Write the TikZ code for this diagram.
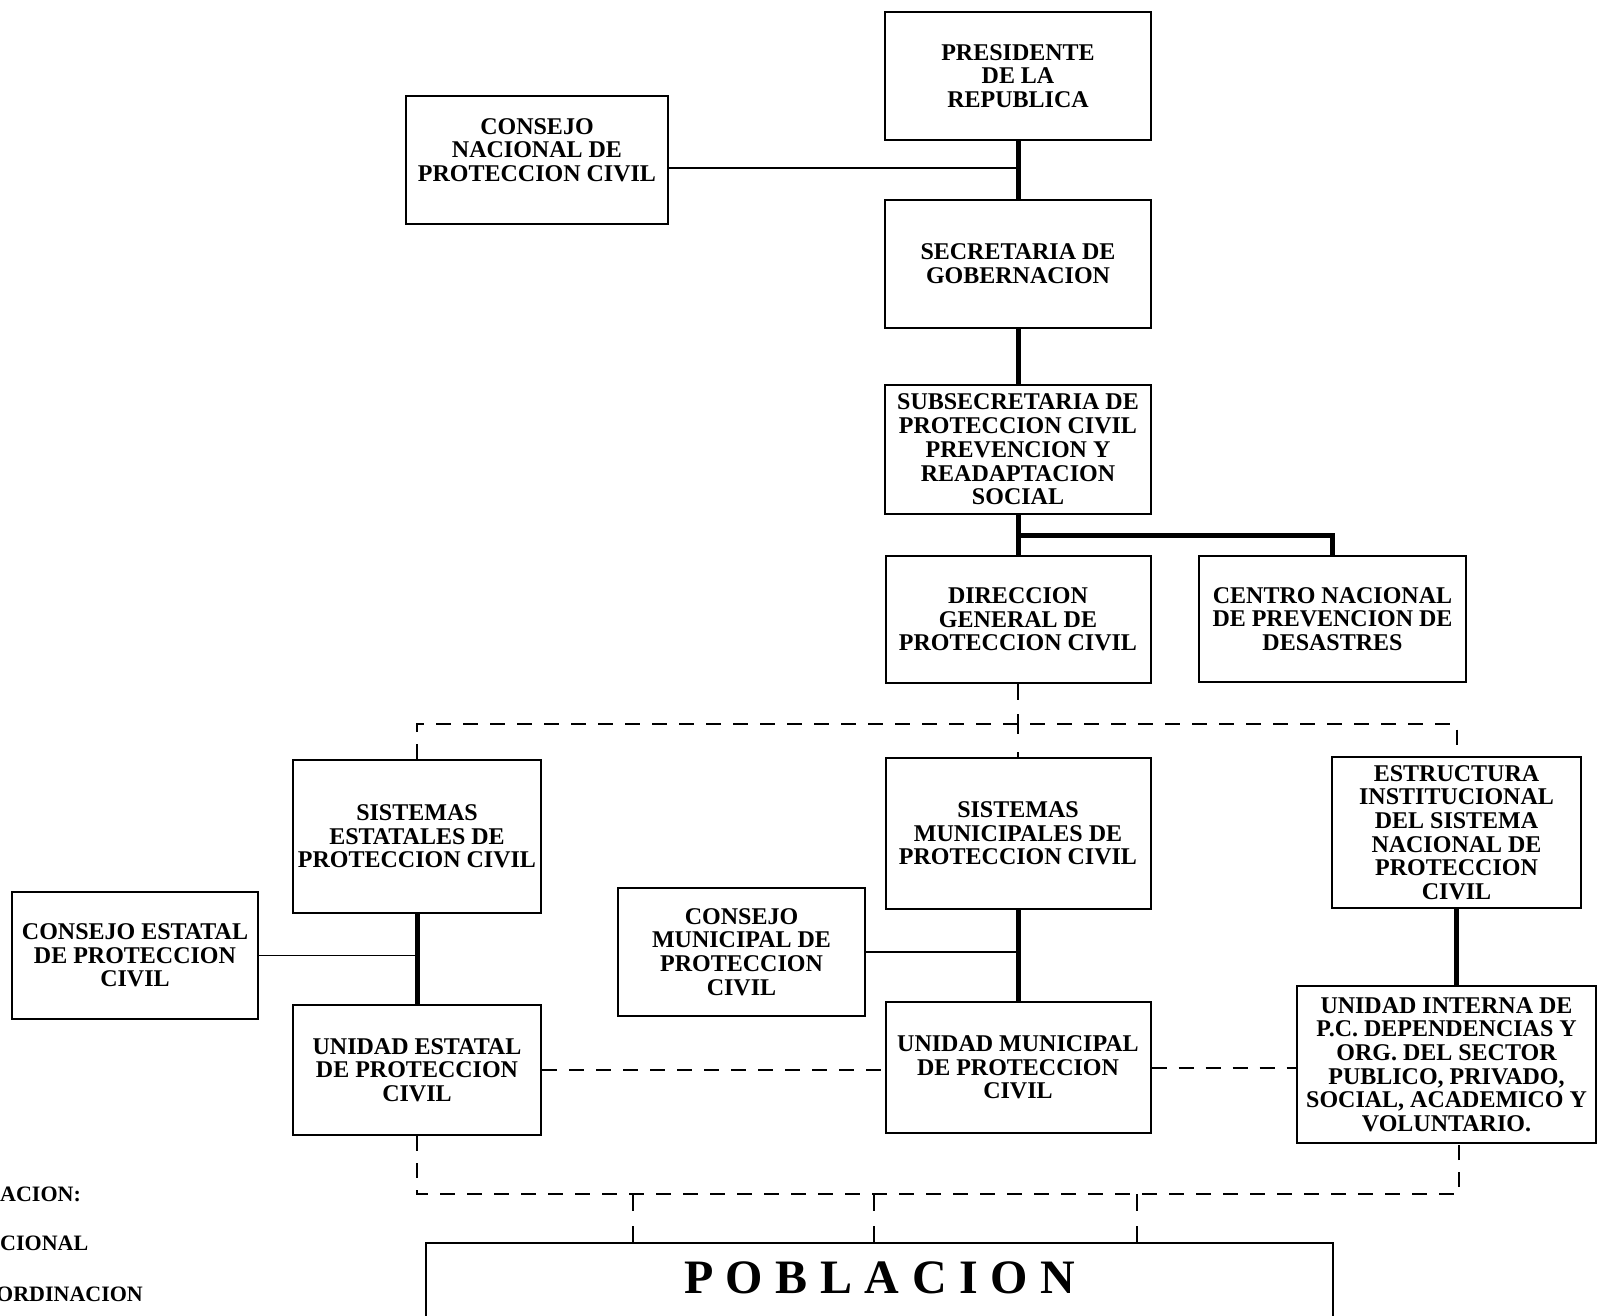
\documentclass[tikz,border=0pt]{standalone}
\usepackage{fontspec}
\setmainfont{Liberation Serif}
\usetikzlibrary{calc}
\begin{document}
\begin{tikzpicture}[x=1pt,y=-1pt,
  box/.style={draw,line width=2pt,inner sep=0pt,align=center,font=\fontsize{24}{23.7}\selectfont\bfseries},
  thickline/.style={line width=5pt},
  thinline/.style={line width=1.6pt},
  dashline/.style={line width=2pt,dash pattern=on 15pt off 12pt},
  dropline/.style={line width=1.6pt,dash pattern=on 17pt off 15pt},
  legend/.style={anchor=west,inner sep=0pt,font=\fontsize{22}{24}\selectfont\bfseries},
]
\useasboundingbox (0,0) rectangle (1598,1316);

% boxes
\node[box,minimum width=266pt,minimum height=128pt] (pres) at (1018,76) {PRESIDENTE\\DE LA\\REPUBLICA};
\node[box,minimum width=262pt,minimum height=128pt,text depth=20pt] (cnac) at (537,160) {CONSEJO\\NACIONAL DE\\PROTECCION CIVIL};
\node[box,minimum width=266pt,minimum height=128pt] (secr) at (1018,264) {SECRETARIA DE\\GOBERNACION};
\node[box,minimum width=266pt,minimum height=129pt] (subs) at (1018,449.5) {SUBSECRETARIA DE\\PROTECCION CIVIL\\PREVENCION Y\\READAPTACION\\SOCIAL};
\node[box,minimum width=265pt,minimum height=127pt] (dir) at (1018,619.5) {DIRECCION\\GENERAL DE\\PROTECCION CIVIL};
\node[box,minimum width=267pt,minimum height=126pt] (cen) at (1332.5,619) {CENTRO NACIONAL\\DE PREVENCION DE\\DESASTRES};
\node[box,minimum width=248pt,minimum height=153pt] (sest) at (417,836.5) {SISTEMAS\\ESTATALES DE\\PROTECCION CIVIL};
\node[box,minimum width=265pt,minimum height=151pt] (smun) at (1018,833.5) {SISTEMAS\\MUNICIPALES DE\\PROTECCION CIVIL};
\node[box,minimum width=249pt,minimum height=151pt] (estr) at (1456.5,832.5) {ESTRUCTURA\\INSTITUCIONAL\\DEL SISTEMA\\NACIONAL DE\\PROTECCION\\CIVIL};
\node[box,minimum width=246pt,minimum height=127pt] (cest) at (135,955.5) {CONSEJO ESTATAL\\DE PROTECCION\\CIVIL};
\node[box,minimum width=247pt,minimum height=128pt] (cmun) at (741.5,952) {CONSEJO\\MUNICIPAL DE\\PROTECCION\\CIVIL};
\node[box,minimum width=248pt,minimum height=130pt] (uest) at (417,1070) {UNIDAD ESTATAL\\DE PROTECCION\\CIVIL};
\node[box,minimum width=265pt,minimum height=131pt] (umun) at (1018,1067.5) {UNIDAD MUNICIPAL\\DE PROTECCION\\CIVIL};
\node[box,minimum width=299pt,minimum height=157pt] (uint) at (1446.5,1064.5) {UNIDAD INTERNA DE\\P.C. DEPENDENCIAS Y\\ORG. DEL SECTOR\\PUBLICO, PRIVADO,\\SOCIAL, ACADEMICO Y\\VOLUNTARIO.};
\def\ls{\hspace{12.5pt}}
\node[box,minimum width=907pt,minimum height=76pt,text depth=6pt,font=\fontsize{48}{50}\selectfont\bfseries] (pob) at (879.5,1281) {P\ls O\ls B\ls L\ls A\ls C\ls I\ls O\ls N};

% legend (cut off at the left edge)
\node[legend] (l1) at (0,1194) {ACION:};
\node[legend] (l2) at (0,1243) {CIONAL};
\node[legend] (l3) at (-4,1294) {ORDINACION};

% solid connectors
\draw[thickline] (pres.south) -- (secr.north);
\draw[thinline] ([yshift=-8pt]cnac.east) -- ([yshift=-8pt]cnac.east -| pres.south);
\draw[thickline] (secr.south) -- (subs.north);
\draw[thickline] (subs.south) -- (dir.north);
\draw[thickline] ($(subs.south)!0.5!(dir.north)$) -| (cen.north);
\draw[thickline] (sest.south) -- (uest.north);
\draw[thinline] (cest.east) -- (cest.east -| sest.south);
\draw[thickline] (smun.south) -- (umun.north);
\draw[thinline] (cmun.east) -- (cmun.east -| smun.south);
\draw[thickline] (estr.south) -- (estr.south |- uint.north);

% dashed connectors
\draw[thinline,dash pattern=on 16pt off 14pt on 20pt off 18pt on 7pt] (dir.south) -- (smun.north);
\coordinate (tl) at (413,724);
\draw[dashline] (sest.north) -- (sest.north |- tl) -- (estr.north |- tl) -- (estr.north);
\draw[dashline] (uest.east) -- (uest.east -| umun.west);
\draw[dashline] (umun.east) -- (umun.east -| uint.west);
\coordinate (br) at (1459,1194);
\draw[dashline] (uest.south) |- (br) -- (br |- uint.south);
\coordinate (d1) at (633,1194);
\coordinate (d2) at (874,1194);
\coordinate (d3) at (1137,1194);
\draw[dropline] (d1) -- (d1 |- pob.north);
\draw[dropline] (d2) -- (d2 |- pob.north);
\draw[dropline] (d3) -- (d3 |- pob.north);
\end{tikzpicture}
\end{document}
